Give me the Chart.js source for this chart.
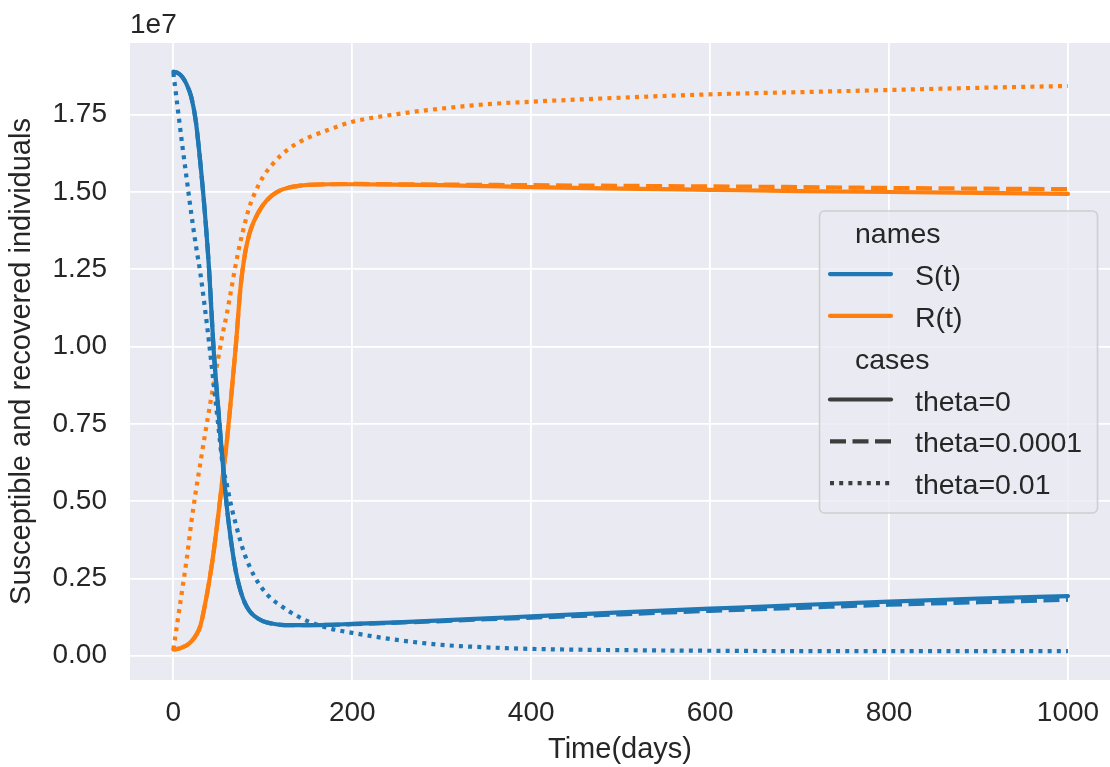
<!DOCTYPE html>
<html>
<head>
<meta charset="utf-8">
<script src="https://cdn.jsdelivr.net/npm/chart.js@4"></script>
<style>
  html, body { margin: 0; padding: 0; background: #fff; }
  #wrap { width: 1110px; height: 767px; }
</style>
</head>
<body>
<div id="wrap"><canvas id="chart" width="1110" height="767"></canvas></div>
<script>
// values are in units of 1e7 individuals (the axis shows the "1e7" offset)
const DAYS = [0, 5, 10, 15, 20, 25, 30, 35, 40, 45, 50, 55, 60, 65, 70, 75, 80, 85, 90, 100,
              110, 120, 130, 140, 150, 175, 200, 250, 300, 350, 400, 500, 600, 700, 800, 900, 1000];

const S_THETA_0 = [1.889, 1.885, 1.872, 1.847, 1.807, 1.730, 1.598, 1.440, 1.245, 0.990,
                   0.805, 0.630, 0.475, 0.360, 0.270, 0.210, 0.170, 0.145, 0.130, 0.112,
                   0.104, 0.100, 0.099, 0.099, 0.099, 0.100, 0.103, 0.108, 0.114, 0.121,
                   0.127, 0.140, 0.152, 0.164, 0.175, 0.185, 0.193];
const S_THETA_1E4 = [1.889, 1.885, 1.872, 1.847, 1.807, 1.730, 1.598, 1.440, 1.245, 0.990,
                     0.805, 0.630, 0.475, 0.360, 0.270, 0.210, 0.170, 0.145, 0.130, 0.112,
                     0.104, 0.100, 0.099, 0.099, 0.099, 0.100, 0.102, 0.107, 0.112, 0.118,
                     0.123, 0.134, 0.145, 0.155, 0.165, 0.173, 0.181];
const S_THETA_1E2 = [1.885, 1.767, 1.650, 1.540, 1.430, 1.330, 1.240, 1.130, 1.010, 0.880,
                     0.750, 0.620, 0.550, 0.480, 0.423, 0.370, 0.325, 0.290, 0.260, 0.215,
                     0.183, 0.162, 0.142, 0.126, 0.112, 0.088, 0.074, 0.051, 0.035, 0.027,
                     0.022, 0.018, 0.016, 0.015, 0.015, 0.015, 0.015];

const R_THETA_0 = [0.020, 0.022, 0.027, 0.034, 0.046, 0.065, 0.095, 0.160, 0.240, 0.335,
                   0.450, 0.575, 0.700, 0.850, 1.010, 1.190, 1.300, 1.365, 1.405, 1.457,
                   1.488, 1.506, 1.515, 1.520, 1.523, 1.525, 1.525, 1.524, 1.522, 1.519,
                   1.516, 1.511, 1.507, 1.503, 1.500, 1.497, 1.494];
const R_THETA_1E4 = [0.020, 0.022, 0.027, 0.034, 0.046, 0.065, 0.095, 0.160, 0.240, 0.335,
                     0.450, 0.575, 0.700, 0.850, 1.010, 1.190, 1.300, 1.365, 1.405, 1.457,
                     1.488, 1.506, 1.515, 1.520, 1.523, 1.525, 1.526, 1.525, 1.524, 1.523,
                     1.522, 1.520, 1.518, 1.516, 1.513, 1.511, 1.509];
const R_THETA_1E2 = [0.020, 0.118, 0.215, 0.315, 0.430, 0.530, 0.620, 0.710, 0.795, 0.880,
                     0.960, 1.040, 1.110, 1.190, 1.270, 1.340, 1.400, 1.452, 1.490, 1.548,
                     1.587, 1.618, 1.642, 1.660, 1.675, 1.703, 1.727, 1.752, 1.770, 1.784,
                     1.792, 1.805, 1.816, 1.823, 1.830, 1.837, 1.843];

const X_TICKS = [0, 200, 400, 600, 800, 1000];
const X_TICK_LABELS = ['0', '200', '400', '600', '800', '1000'];
const Y_TICKS = [0, 0.25, 0.5, 0.75, 1.0, 1.25, 1.5, 1.75];
const Y_TICK_LABELS = ['0.00', '0.25', '0.50', '0.75', '1.00', '1.25', '1.50', '1.75'];

const NAMES = ['S(t)', 'R(t)'];
const CASES = ['theta=0', 'theta=0.0001', 'theta=0.01'];

const BLUE = '#1f77b4';
const ORANGE = '#ff7f0e';
const INK = '#262626';
const FONT = '"Liberation Sans", Arial, sans-serif';
const LINE_W = 4.2;
const DASHES = [[], [16, 6.5], [4, 5.2]];

const pts = (ys) => ys.map((y, i) => ({ x: DAYS[i], y }));

function series(label, ys, color, caseIdx) {
    return {
        label,
        data: pts(ys),
        borderColor: color,
        borderWidth: LINE_W,
        borderDash: DASHES[caseIdx],
        borderCapStyle: caseIdx === 0 ? 'round' : 'butt',
        borderJoinStyle: 'round',
        pointRadius: 0,
        cubicInterpolationMode: 'monotone',
        fill: false
    };
}

const datasets = [
    series('S(t) theta=0', S_THETA_0, BLUE, 0),
    series('S(t) theta=0.0001', S_THETA_1E4, BLUE, 1),
    series('S(t) theta=0.01', S_THETA_1E2, BLUE, 2),
    series('R(t) theta=0', R_THETA_0, ORANGE, 0),
    series('R(t) theta=0.0001', R_THETA_1E4, ORANGE, 1),
    series('R(t) theta=0.01', R_THETA_1E2, ORANGE, 2)
];

// seaborn-like panel background
const panelBg = {
    id: 'panelBg',
    beforeDraw(chart) {
        const { ctx, chartArea: a } = chart;
        ctx.save();
        ctx.fillStyle = '#fff';
        ctx.fillRect(0, 0, chart.width, chart.height);
        ctx.fillStyle = '#EAEAF2';
        ctx.fillRect(a.left, a.top, a.right - a.left, a.bottom - a.top);
        ctx.restore();
    }
};

// "1e7" offset text plus the two-part legend (names / cases)
const extras = {
    id: 'extras',
    afterDraw(chart) {
        const { ctx, chartArea: a } = chart;
        ctx.save();
        ctx.fillStyle = INK;
        ctx.textBaseline = 'alphabetic';
        ctx.textAlign = 'left';
        ctx.font = `28px ${FONT}`;
        ctx.fillText('1e7', a.left, 33);

        // legend frame
        const bx = 819.5, by = 211, bw = 278, bh = 302, r = 5;
        ctx.beginPath();
        ctx.roundRect(bx, by, bw, bh, r);
        ctx.fillStyle = 'rgba(234,234,242,0.8)';
        ctx.fill();
        ctx.lineWidth = 1.6;
        ctx.strokeStyle = 'rgba(204,204,204,0.9)';
        ctx.stroke();

        const rows = [
            { text: 'names', head: true },
            { text: NAMES[0], color: BLUE, dash: DASHES[0] },
            { text: NAMES[1], color: ORANGE, dash: DASHES[0] },
            { text: 'cases', head: true },
            { text: CASES[0], color: '#3d3d3d', dash: DASHES[0] },
            { text: CASES[1], color: '#3d3d3d', dash: DASHES[1] },
            { text: CASES[2], color: '#3d3d3d', dash: DASHES[2] }
        ];
        ctx.font = `28.5px ${FONT}`;
        rows.forEach((row, i) => {
            const base = 243.3 + 41.8 * i;
            ctx.fillStyle = INK;
            if (row.head) {
                ctx.fillText(row.text, 855, base);
                return;
            }
            ctx.fillText(row.text, 915, base);
            ctx.beginPath();
            ctx.setLineDash(row.dash);
            ctx.lineCap = row.dash.length ? 'butt' : 'round';
            ctx.lineWidth = LINE_W;
            ctx.strokeStyle = row.color;
            ctx.moveTo(830, base - 11);
            ctx.lineTo(891, base - 11);
            ctx.stroke();
            ctx.setLineDash([]);
        });
        ctx.restore();
    }
};

Chart.defaults.font.family = FONT;
Chart.defaults.color = INK;

new Chart(document.getElementById('chart').getContext('2d'), {
    type: 'line',
    data: { datasets },
    options: {
        responsive: false,
        animation: false,
        layout: { padding: { top: 43, right: 0, bottom: 0, left: 0 } },
        plugins: {
            legend: { display: false },
            tooltip: { enabled: false }
        },
        scales: {
            x: {
                type: 'linear',
                min: -48.5,
                max: 1047,
                afterBuildTicks: (s) => { s.ticks = X_TICKS.map((v) => ({ value: v })); },
                afterFit: (s) => {
                    s.height = 87;
                    s.paddingLeft = 0;
                    s.paddingRight = 0;
                },
                ticks: {
                    autoSkip: false,
                    maxRotation: 0,
                    padding: 16,
                    font: { size: 28 },
                    color: INK,
                    callback: (v, i) => X_TICK_LABELS[i]
                },
                grid: { color: '#fff', lineWidth: 1.8, drawTicks: false },
                border: { display: false },
                title: {
                    display: true,
                    text: 'Time(days)',
                    font: { size: 29 },
                    color: INK,
                    padding: { top: 0, bottom: 0 }
                }
            },
            y: {
                type: 'linear',
                min: -0.0786,
                max: 1.982,
                afterBuildTicks: (s) => { s.ticks = Y_TICKS.map((v) => ({ value: v })); },
                afterFit: (s) => {
                    s.width = 130;
                    s.paddingTop = 0;
                    s.paddingBottom = 0;
                },
                ticks: {
                    autoSkip: false,
                    padding: 23,
                    font: { size: 28 },
                    color: INK,
                    callback: (v, i) => Y_TICK_LABELS[i]
                },
                grid: { color: '#fff', lineWidth: 1.8, drawTicks: false },
                border: { display: false },
                title: {
                    display: true,
                    text: 'Susceptible and recovered individuals',
                    font: { size: 29 },
                    color: INK,
                    padding: { top: 5, bottom: 0 }
                }
            }
        }
    },
    plugins: [panelBg, extras]
});
</script>
</body>
</html>
